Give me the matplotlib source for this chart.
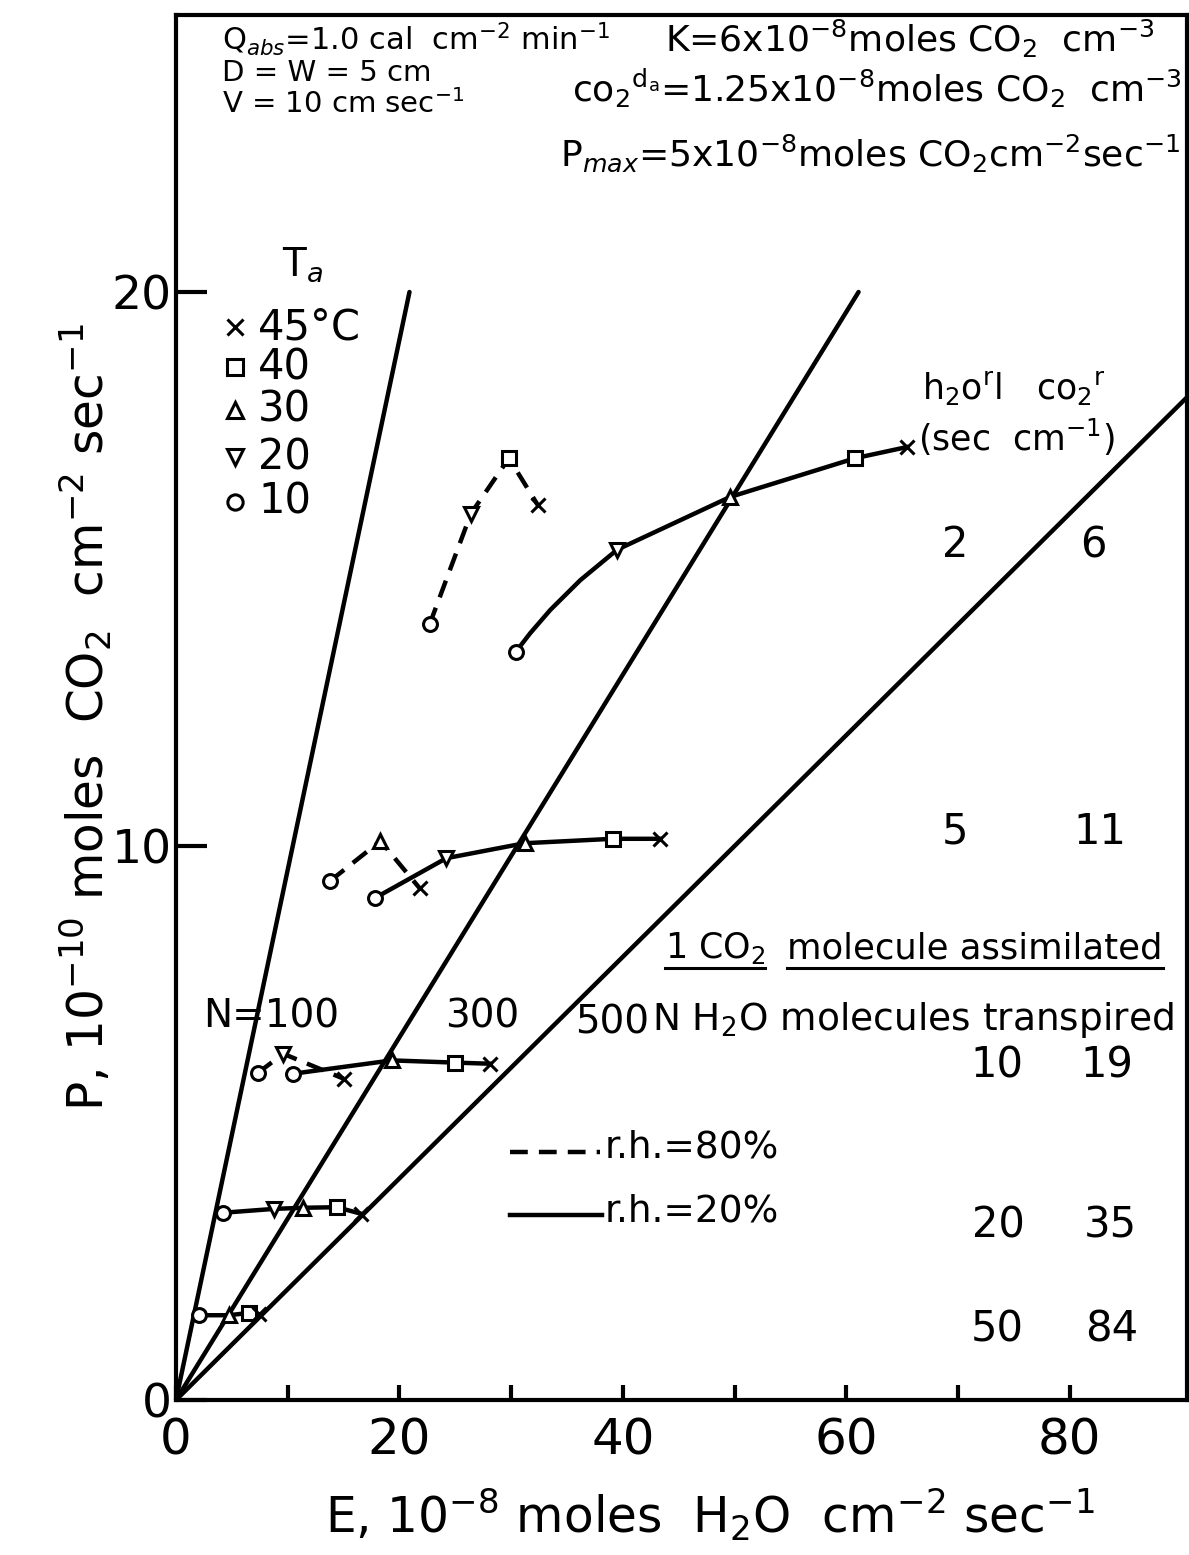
import matplotlib
matplotlib.use("Agg")
import matplotlib.pyplot as plt
from matplotlib.lines import Line2D

plt.rcParams['font.family'] = ['DejaVu Sans']
plt.rcParams['mathtext.fontset'] = 'dejavusans'

W, H = 1189, 1555

# marker per air temperature (Ta, deg C); None = point on the curve, no symbol
marker_of = {10: 'o', 20: 'v', 30: '^', 40: 's', 45: 'x'}

# curves: E (1e-8 mol H2O cm-2 s-1), P (1e-10 mol CO2 cm-2 s-1), Ta
# r.h. = 20% (solid)
dry_E = [[30.4, 31.7, 33.5, 36.2, 39.5, 49.6, 60.8, 65.4],
         [17.8, 24.2, 31.2, 39.1, 43.3],
         [10.5, 19.3, 25.0, 28.1],
         [4.2, 8.8, 11.4, 14.4, 16.6],
         [2.1, 4.7, 6.5, 7.4]]
dry_P = [[13.5, 13.84, 14.26, 14.8, 15.35, 16.3, 17.0, 17.2],
         [9.06, 9.78, 10.05, 10.13, 10.13],
         [5.89, 6.13, 6.09, 6.07],
         [3.38, 3.45, 3.47, 3.48, 3.36],
         [1.53, 1.53, 1.57, 1.55]]
dry_T = [[10, None, None, None, 20, 30, 40, 45],
         [10, 20, 30, 40, 45],
         [10, 30, 40, 45],
         [10, 20, 30, 40, 45],
         [10, 30, 40, 45]]

# r.h. = 80% (dashed)
wet_E = [[22.7, 26.4, 29.8, 32.4],
         [13.8, 18.3, 21.8],
         [7.3, 9.6, 15.0]]
wet_P = [[14.0, 16.0, 17.0, 16.15],
         [9.37, 10.09, 9.24],
         [5.9, 6.25, 5.8]]
wet_T = [[10, 20, 40, 45],
         [10, 30, 45],
         [10, 20, 45]]

# lines of constant N (1 CO2 per N H2O)
N_vals = [100, 300, 500]
N_E = [[0, 20.9], [0, 61.1], [0, 92.0]]
N_P = [[0, 20.0], [0, 20.0], [0, 18.4]]

# resistance pairs for each curve level
h2o_rl = ['2', '5', '10', '20', '50']
co2_r = ['6', '11', '19', '35', '84']

legend_T = ['45°C', '40', '30', '20', '10']
legend_mk = ['x', 's', '^', 'v', 'o']


def fp(x, y):
    # pixel position -> figure fraction
    return x / W, 1 - y / H


fig = plt.figure(figsize=(W / 100, H / 100), dpi=100)
ax = fig.add_axes([176 / W, 1 - 1400 / H, (1187 - 176) / W, (1400 - 15) / H])
ax.set_xlim(0, 90.5)
ax.set_ylim(0, 25.0)

for s in ax.spines.values():
    s.set_linewidth(3)

ax.set_xticks(range(0, 90, 10))
ax.set_xticklabels(['0', '', '20', '', '40', '', '60', '', '80'])
ax.set_yticks([0, 10, 20])
ax.set_yticklabels(['0', '10', '20'])
ax.tick_params(axis='x', direction='in', length=11, width=3, pad=12, labelsize=36)
ax.tick_params(axis='y', direction='in', length=22, width=3, pad=3, labelsize=34)

lw = 3.2
for E, P in zip(N_E, N_P):
    ax.plot(E, P, color='black', lw=lw, solid_capstyle='round', zorder=2)

mk_style = dict(color='black', markersize=10, markerfacecolor='white',
                markeredgewidth=2.2, linestyle='none', zorder=4)

for E, P, T in zip(dry_E, dry_P, dry_T):
    ax.plot(E, P, color='black', lw=lw, zorder=3, solid_joinstyle='round')
    for e, p, t in zip(E, P, T):
        if t is not None:
            ax.plot(e, p, marker=marker_of[t], **mk_style)

for E, P, T in zip(wet_E, wet_P, wet_T):
    ax.plot(E, P, color='black', lw=lw, ls=(0, (4, 2.5)), zorder=3)
    for e, p, t in zip(E, P, T):
        if t is not None:
            ax.plot(e, p, marker=marker_of[t], **mk_style)

# header text
fig.text(*fp(222, 50), r'Q$_{abs}$=1.0 cal  cm$^{-2}$ min$^{-1}$', fontsize=22, va='baseline')
fig.text(*fp(665, 52), r'K=6x10$^{-8}$moles CO$_2$  cm$^{-3}$', fontsize=26, va='baseline')
fig.text(*fp(222, 81), 'D = W = 5 cm', fontsize=21, va='baseline')
fig.text(*fp(222, 113), r'V = 10 cm sec$^{-1}$', fontsize=21, va='baseline')
fig.text(*fp(572, 102), r'co$_2$$^{\mathregular{d_a}}$=1.25x10$^{-8}$moles CO$_2$  cm$^{-3}$',
         fontsize=26, va='baseline')
fig.text(*fp(560, 166), r'P$_{max}$=5x10$^{-8}$moles CO$_2$cm$^{-2}$sec$^{-1}$',
         fontsize=26, va='baseline')

# temperature key
fig.text(*fp(282, 265), r'T$_a$', fontsize=28, va='center')
key_y = [327, 367, 410, 457, 502]
for lab, mk, y in zip(legend_T, legend_mk, key_y):
    fig.add_artist(Line2D([235 / W], [1 - y / H], marker=mk, color='black',
                          markersize=11, markerfacecolor='white', markeredgewidth=2.2))
    fig.text(*fp(258, y), lab, fontsize=30, va='center')

# resistance table
fig.text(*fp(922, 388), r'h$_2$o$^{\mathregular{r}}$l   co$_2$$^{\mathregular{r}}$', fontsize=25, va='center')
fig.text(*fp(918, 437), r'(sec  cm$^{-1}$)', fontsize=25, va='center')
pair_y = [545, 832, 1065, 1225, 1330]
left_x = [955, 955, 997, 998, 997]
right_x = [1093, 1100, 1107, 1110, 1112]
for a, b, xl, xr, y in zip(h2o_rl, co2_r, left_x, right_x, pair_y):
    fig.text(*fp(xl, y), a, fontsize=30, va='center', ha='center')
    fig.text(*fp(xr, y), b, fontsize=30, va='center', ha='center')

# N labels and ratio definition
fig.text(*fp(203, 1017), 'N=100', fontsize=28, va='center')
fig.text(*fp(445, 1017), str(N_vals[1]), fontsize=28, va='center')
fig.text(*fp(575, 1022), str(N_vals[2]), fontsize=28, va='center')
t1 = fig.text(*fp(665, 958), r'1 CO$_2$', fontsize=25, va='baseline')
t2 = fig.text(*fp(787, 958), 'molecule assimilated', fontsize=25.5, va='baseline')
fig.text(*fp(652, 1020), r'N H$_2$O molecules transpired', fontsize=27, va='center')

fig.canvas.draw()
r = fig.canvas.get_renderer()
for t in (t1, t2):
    bb = t.get_window_extent(r)
    fig.add_artist(Line2D([bb.x0 / W, bb.x1 / W], [1 - 968 / H] * 2, color='black', lw=2.2))

# humidity key
fig.add_artist(Line2D([510 / W, 600 / W], [1 - 1152 / H] * 2, color='black', lw=lw,
                      ls=(0, (4, 2.5))))
fig.text(*fp(605, 1148), 'r.h.=80%', fontsize=27, va='center')
fig.add_artist(Line2D([510 / W, 602 / W], [1 - 1215 / H] * 2, color='black', lw=lw))
fig.text(*fp(605, 1212), 'r.h.=20%', fontsize=27, va='center')

# axis labels
fig.text(*fp(710, 1515), r'E, 10$^{-8}$ moles  H$_2$O  cm$^{-2}$ sec$^{-1}$',
         fontsize=35, ha='center', va='center')
fig.text(*fp(86, 717), r'P, 10$^{-10}$ moles  CO$_2$  cm$^{-2}$ sec$^{-1}$',
         fontsize=35, ha='center', va='center', rotation=90)

fig.savefig('out.png', dpi=100)
